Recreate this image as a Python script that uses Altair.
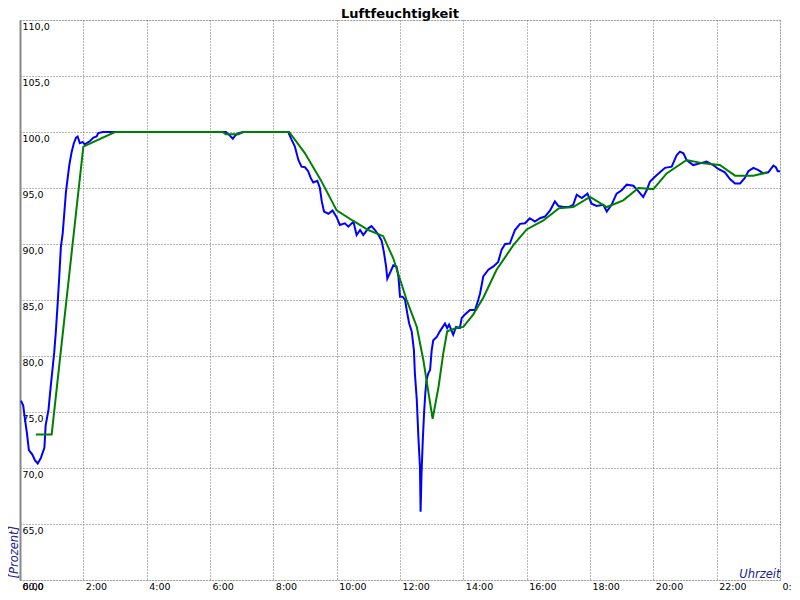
import altair as alt
import pandas as pd

# Measured humidity (blue), hours since midnight
blue_hours = [0.03, 0.10, 0.16, 0.22, 0.28, 0.39, 0.47, 0.56, 0.66, 0.77, 0.81, 0.90, 0.95, 1.00,
              1.08, 1.13, 1.19, 1.24, 1.29, 1.35, 1.40, 1.45, 1.51, 1.56, 1.63, 1.70, 1.77, 1.82,
              1.89, 1.97, 2.05, 2.21, 2.32, 2.42, 2.47, 2.62, 6.50, 6.62, 6.72, 6.80, 6.90, 7.05,
              8.47, 8.58, 8.68, 8.79, 8.89, 9.00, 9.10, 9.18, 9.26, 9.39, 9.47, 9.53, 9.60, 9.74,
              9.87, 10.00, 10.10, 10.26, 10.37, 10.53, 10.63, 10.74, 10.84, 11.00, 11.10, 11.21,
              11.32, 11.42, 11.49, 11.56, 11.60, 11.68, 11.79, 11.89, 11.95, 12.00, 12.08, 12.16,
              12.23, 12.29, 12.37, 12.44, 12.47, 12.53, 12.58, 12.63, 12.65, 12.68, 12.72, 12.76,
              12.80, 12.84, 12.90, 12.95, 13.00, 13.05, 13.16, 13.26, 13.35, 13.42, 13.49, 13.55,
              13.68, 13.77, 13.89, 13.95, 14.05, 14.21, 14.37, 14.47, 14.53, 14.63, 14.79, 14.95,
              15.10, 15.21, 15.32, 15.47, 15.63, 15.79, 15.95, 16.10, 16.26, 16.42, 16.58, 16.74,
              16.89, 17.00, 17.16, 17.32, 17.47, 17.58, 17.74, 17.92, 18.05, 18.21, 18.42, 18.53,
              18.68, 18.84, 19.00, 19.16, 19.37, 19.53, 19.68, 19.79, 19.89, 20.05, 20.21, 20.37,
              20.58, 20.74, 20.84, 20.95, 21.05, 21.26, 21.47, 21.68, 21.89, 22.05, 22.26, 22.42,
              22.58, 22.74, 22.89, 23.00, 23.16, 23.32, 23.47, 23.63, 23.79, 23.87, 23.93, 24.00]
blue_values = [76.0, 75.6, 74.3, 73.1, 71.6, 71.2, 70.7, 70.4, 70.9, 71.8, 73.8, 75.2, 76.7, 78.1,
               80.3, 82.1, 84.7, 87.1, 89.7, 91.0, 92.8, 94.6, 96.0, 97.1, 98.2, 99.0, 99.5, 99.6,
               99.0, 99.1, 98.9, 99.2, 99.5, 99.6, 99.9, 100.0, 100.0, 99.7, 99.4, 99.7, 99.9, 100.0,
               100.0, 99.3, 98.7, 97.5, 96.9, 96.85, 96.5, 95.9, 95.5, 95.65, 95.0, 93.8, 92.9, 92.7,
               93.0, 92.4, 91.7, 91.85, 91.55, 92.0, 90.8, 91.25, 90.8, 91.4, 91.6, 91.25,
               90.8, 90.3, 89.3, 88.0, 86.9, 87.4, 88.1, 88.0, 87.1, 85.3, 85.3, 85.0,
               83.8, 82.9, 82.2, 80.5, 78.45, 76.1, 72.8, 70.1, 66.1, 69.5, 72.5, 74.9,
               76.7, 77.9, 78.5, 78.75, 80.5, 81.4, 81.7, 82.2, 82.6, 82.9, 82.5, 82.8,
               81.9, 82.6, 82.5, 83.4, 83.7, 84.1, 84.1, 85.0, 85.6, 87.1, 87.7, 88.0,
               88.4, 89.5, 90.0, 90.05, 91.25, 91.8, 91.85, 92.3, 92.0, 92.3, 92.45, 93.0,
               93.8, 93.4, 93.3, 93.3, 93.5, 94.4, 94.1, 94.5, 93.6, 93.4, 93.5, 92.9,
               93.5, 94.5, 94.8, 95.3, 95.2, 94.7, 94.2, 94.8, 95.55, 96.0, 96.4, 96.8,
               96.9, 97.95, 98.25, 98.1, 97.5, 97.05, 97.2, 97.35, 97.05, 96.7, 96.4, 95.8,
               95.4, 95.4, 95.9, 96.5, 96.8, 96.6, 96.3, 96.4, 97.0, 96.85, 96.5, 96.5]

# Smoothed humidity (green)
green_hours = [0.5, 1.0, 2.0, 3.0, 6.4, 6.5, 6.9, 7.05, 8.5, 9.0, 9.5, 10.0, 10.5, 11.0, 11.47,
               11.79, 12.21, 12.53, 12.74, 12.9, 13.03, 13.22, 13.37, 13.49, 13.79, 14.0, 14.31,
               14.63, 15.05, 15.58, 16.0, 16.53, 17.02, 17.47, 18.0, 18.53, 19.05, 19.53, 20.0,
               20.42, 21.05, 21.58, 22.1, 22.58, 23.16, 23.6]
green_values = [73.0, 73.0, 98.7, 100.0, 100.0, 99.8, 99.8, 100.0, 100.0, 98.1, 95.7, 93.0, 92.1,
                91.25, 90.7, 88.7, 85.0, 82.6, 79.6, 76.7, 74.4, 77.3, 80.3, 82.2, 82.5, 82.6,
                83.7, 85.2, 87.7, 89.9, 91.3, 92.1, 93.2, 93.3, 94.2, 93.3, 93.9, 95.0, 94.9,
                96.3, 97.5, 97.2, 97.05, 96.1, 96.1, 96.4]

chart_title = ["Luftfeuchtigkeit"]
x_ticks = list(range(0, 25, 2))
y_ticks = list(range(60, 111, 5))

blue = pd.DataFrame({"h": blue_hours, "v": blue_values})
green = pd.DataFrame({"h": green_hours, "v": green_values})
title_df = pd.DataFrame({"t": chart_title})

title_color = "#202096"
grid_color = "#707070"

x_enc = alt.X(
    "h:Q",
    scale=alt.Scale(domain=[0, 24], nice=False, zero=False),
    axis=alt.Axis(
        values=x_ticks,
        labelExpr="(datum.value % 24) + ':00'",
        labelAlign="left",
        labelBaseline="top",
        labelPadding=1,
        labelOffset=2,
        labelFlush=False,
        labelOverlap=False,
        labelFont="DejaVu Sans",
        labelFontSize=9.5,
        labelColor="black",
        ticks=False,
        tickSize=0,
        domain=False,
        grid=True,
        gridColor=grid_color,
        gridDash=[1, 2],
        gridWidth=1,
        gridOpacity=1,
        title="Uhrzeit",
        titleFont="DejaVu Sans",
        titleFontSize=11.5,
        titleFontStyle="italic",
        titleFontWeight="normal",
        titleColor=title_color,
        titleAlign="right",
        titleBaseline="alphabetic",
        titleX=760,
        titleY=-3,
    ),
)

y_enc = alt.Y(
    "v:Q",
    scale=alt.Scale(domain=[60, 110], nice=False, zero=False),
    axis=alt.Axis(
        values=y_ticks,
        labelExpr="replace(format(datum.value, '.1f'), '.', ',')",
        labelAlign="left",
        labelBaseline="top",
        labelPadding=-2,
        labelOffset=1,
        labelFlush=False,
        labelOverlap=False,
        labelFont="DejaVu Sans",
        labelFontSize=9.5,
        labelColor="black",
        ticks=False,
        tickSize=0,
        domain=True,
        domainColor="#888888",
        domainWidth=2,
        grid=True,
        gridColor=grid_color,
        gridDash=[1, 2],
        gridWidth=1,
        gridOpacity=1,
        title="[Prozent]",
        titleFont="DejaVu Sans",
        titleFontSize=11.5,
        titleFontStyle="italic",
        titleFontWeight="normal",
        titleColor=title_color,
        titleAngle=270,
        titleAlign="left",
        titleBaseline="middle",
        titleX=-6,
        titleY=558,
    ),
)

blue_line = alt.Chart(blue).mark_line(color="#0000ff", strokeWidth=2, interpolate="linear").encode(
    x=x_enc, y=y_enc
)
green_line = alt.Chart(green).mark_line(color="#008000", strokeWidth=2, interpolate="linear").encode(
    x=x_enc, y=y_enc
)
title_mark = alt.Chart(title_df).mark_text(
    font="DejaVu Sans",
    fontSize=13,
    fontWeight="bold",
    color="black",
    align="center",
    baseline="alphabetic",
).encode(
    text="t:N",
    x=alt.value(380),
    y=alt.value(-2),
)

chart = (
    alt.layer(blue_line, green_line, title_mark)
    .properties(
        width=760,
        height=560,
        autosize=alt.AutoSizeParams(type="none"),
        padding={"left": 12, "top": 12, "right": 12, "bottom": 14},
    )
    .configure_view(strokeWidth=0)
    .configure(background="white")
)

chart.save("out.html", embed_options={"renderer": "svg", "actions": False})
